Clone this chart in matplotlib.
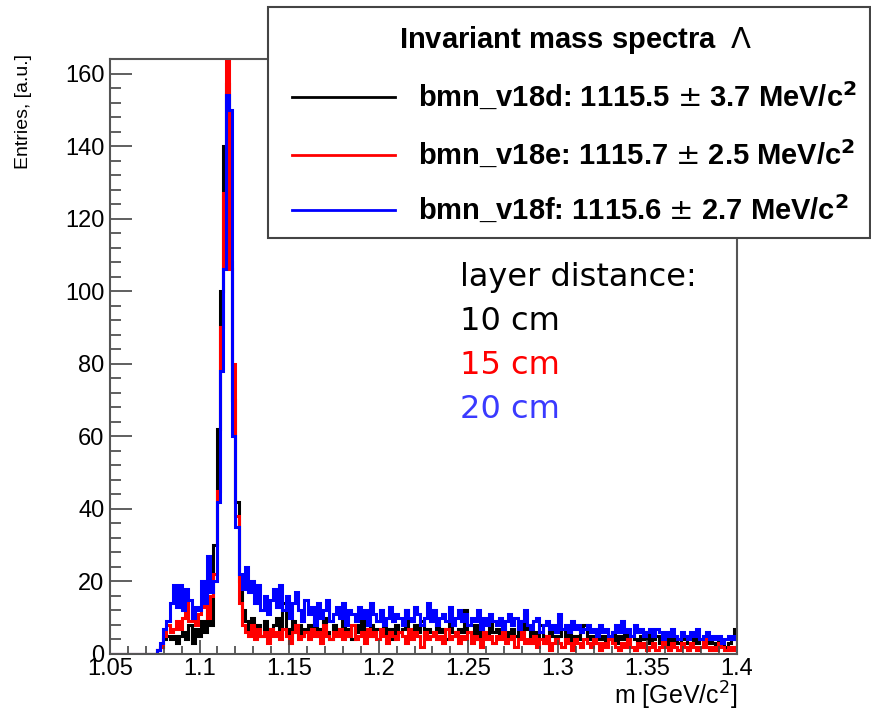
import numpy as np
import matplotlib
matplotlib.use("Agg")
import matplotlib.pyplot as plt
from matplotlib.patches import Rectangle
from matplotlib.lines import Line2D
from matplotlib.ticker import MultipleLocator

# histogram: 200 bins, 1.05 - 1.4 GeV/c^2
edges = np.linspace(1.05, 1.4, 201)

v18d = [0] * 15 + [1,
    2, 4, 5, 4, 5, 3, 5, 6, 4, 8, 3, 7, 5, 9, 6, 12, 8,
    30, 62, 100, 140, 157, 108, 70, 42, 20, 12,
    9, 7, 10, 6, 8, 5, 9, 7, 6, 8,
    10, 6, 14, 7, 5, 9, 6, 8, 5, 7,
    8, 6, 9, 5, 7, 10, 6, 4, 8, 7,
    6, 9, 5, 7, 4, 8, 6, 10, 5, 7,
    8, 5, 7, 6, 9, 5, 7, 4, 8, 6,
    7, 12, 6, 5, 8, 6, 9, 5, 7, 6,
    5, 8, 6, 7, 4, 9, 6, 5, 7, 6,
    12, 6, 5, 8, 4, 7, 6, 5, 9, 6,
    7, 5, 8, 6, 4, 7, 5, 9, 6, 11,
    7, 5, 6, 4, 8, 5, 3, 6, 5, 4,
    5, 7, 4, 6, 3, 5, 4, 6, 8, 4,
    5, 3, 6, 4, 5, 3, 4, 6, 3, 5,
    4, 6, 3, 5, 4, 3, 5, 4, 6, 3,
    4, 5, 3, 4, 2, 5, 3, 4, 3, 5,
    4, 3, 2, 5, 3, 4, 2, 3, 4, 3,
    2, 4, 3, 2, 3, 4, 7]

v18e = [0] * 15 + [1,
    2, 5, 8, 6, 7, 9, 7, 10, 14, 9, 12, 8, 11, 13, 14, 10, 16,
    22, 45, 90, 127, 170, 106, 80, 38, 14, 8,
    6, 5, 8, 4, 7, 5, 6, 3, 7, 5,
    6, 4, 7, 5, 3, 6, 8, 4, 5, 6,
    4, 7, 5, 6, 3, 8, 5, 4, 6, 5,
    7, 4, 6, 5, 8, 4, 5, 6, 3, 7,
    5, 6, 4, 7, 5, 3, 6, 5, 4, 6,
    5, 3, 7, 4, 6, 5, 2, 6, 4, 5,
    6, 4, 5, 3, 7, 4, 5, 6, 3, 5,
    4, 6, 3, 5, 4, 2, 6, 4, 5, 3,
    5, 4, 6, 3, 4, 5, 2, 4, 6, 3,
    4, 3, 5, 2, 4, 3, 5, 1, 3, 4,
    3, 2, 4, 3, 1, 4, 3, 2, 4, 3,
    2, 4, 3, 1, 3, 2, 4, 3, 2, 1,
    3, 2, 4, 2, 1, 3, 2, 3, 1, 2,
    3, 1, 2, 4, 2, 1, 3, 2, 1, 3,
    2, 1, 3, 2, 1, 2, 4, 2, 1, 2,
    1, 3, 2, 1, 2, 1, 2]

v18f = [0] * 15 + [1,
    3, 7, 9, 14, 19, 13, 19, 12, 18, 15, 10, 13, 12, 20, 14, 27, 17,
    20, 42, 78, 106, 154, 150, 60, 35, 22, 18,
    24, 17, 20, 14, 19, 12, 16, 11, 15, 18,
    13, 19, 12, 16, 10, 14, 17, 12, 9, 15,
    11, 13, 8, 14, 10, 12, 15, 9, 11, 13,
    10, 14, 8, 12, 11, 9, 13, 10, 12, 8,
    14, 11, 9, 12, 8, 10, 13, 9, 11, 10,
    8, 12, 10, 9, 13, 11, 8, 10, 14, 9,
    12, 8, 10, 11, 9, 13, 8, 10, 12, 9,
    11, 8, 10, 9, 12, 7, 10, 8, 11, 9,
    8, 10, 7, 9, 11, 8, 10, 7, 9, 12,
    8, 7, 9, 10, 6, 8, 9, 7, 8, 6,
    11, 7, 8, 6, 9, 7, 8, 6, 7, 8,
    6, 7, 5, 8, 6, 7, 5, 6, 8, 6,
    9, 6, 7, 5, 8, 6, 7, 5, 6, 7,
    5, 7, 6, 4, 6, 5, 7, 5, 4, 6,
    5, 4, 6, 5, 7, 4, 5, 6, 4, 5,
    4, 5, 3, 4, 5, 4, 5]

series = [
    ("bmn_v18d: 1115.5 $\\pm$ 3.7 MeV/c$^{\\mathbf{2}}$", v18d, "black"),
    ("bmn_v18e: 1115.7 $\\pm$ 2.5 MeV/c$^{\\mathbf{2}}$", v18e, "#ff0000"),
    ("bmn_v18f: 1115.6 $\\pm$ 2.7 MeV/c$^{\\mathbf{2}}$", v18f, "#0000ff"),
]
distances = ["10 cm", "15 cm", "20 cm"]
dist_colors = ["black", "#ff0000", "#3a3aff"]

plt.rcParams['font.family'] = ['Liberation Sans', 'DejaVu Sans']

W, H = 871, 714
fig = plt.figure(figsize=(W / 100, H / 100), dpi=100)
ax = fig.add_axes([110 / W, 1 - 654 / H, 627 / W, 595 / H])

for label, vals, col in series:
    ax.stairs(vals, edges, color=col, lw=2.2, baseline=0)

ax.set_xlim(1.05, 1.4)
ax.set_ylim(0, 164)
ax.xaxis.set_minor_locator(MultipleLocator(0.01))
ax.yaxis.set_major_locator(MultipleLocator(20))
ax.yaxis.set_minor_locator(MultipleLocator(4))
ax.set_xticks(np.arange(1.05, 1.4001, 0.05))
ax.set_xticklabels(["1.05", "1.1", "1.15", "1.2", "1.25", "1.3", "1.35", "1.4"])
ax.tick_params(axis="both", which="both", direction="in", color="#444444",
               top=False, right=False, labelsize=17, width=1.2)
ax.tick_params(axis="y", which="major", length=16, pad=4)
ax.tick_params(axis="y", which="minor", length=8)
ax.tick_params(axis="x", which="major", length=10, pad=3)
ax.tick_params(axis="x", which="minor", length=6)
for s in ax.spines.values():
    s.set_color("#555555")
    s.set_linewidth(1.5)

ax.set_ylabel("Entries, [a.u.]", fontsize=14, loc="top")
ax.yaxis.set_label_coords(-0.125, 1.008)
ax.set_xlabel("m [GeV/c$^2$]", fontsize=18, loc="right")
ax.xaxis.set_label_coords(1.0, -0.043)

# legend box, drawn in figure pixels
def fx(x):
    return x / W

def fy(y):
    return 1 - y / H

fig.add_artist(Rectangle((fx(268), fy(238)), fx(870) - fx(268), fy(7) - fy(238),
                         transform=fig.transFigure, facecolor="white",
                         edgecolor="#444444", lw=1.5, zorder=5))
fig.text(fx(576), fy(40), "Invariant mass spectra  $\\Lambda$", ha="center", va="center",
         fontsize=21, fontweight="bold", zorder=6)
for i, (label, vals, col) in enumerate(series):
    yy = [97, 155, 210][i]
    fig.add_artist(Line2D([fx(292), fx(395)], [fy(yy), fy(yy)], color=col, lw=2,
                          transform=fig.transFigure, zorder=6))
    fig.text(fx(418), fy(yy), label, ha="left", va="center", fontsize=21,
             fontweight="bold", zorder=6)

fig.text(fx(460), fy(278), "layer distance:", ha="left", va="center",
         fontsize=23, family="DejaVu Sans")
for i, (t, c) in enumerate(zip(distances, dist_colors)):
    fig.text(fx(460), fy([322, 365, 410][i]), t, ha="left", va="center",
             fontsize=23, family="DejaVu Sans", color=c)

fig.savefig("out.png", dpi=100)
